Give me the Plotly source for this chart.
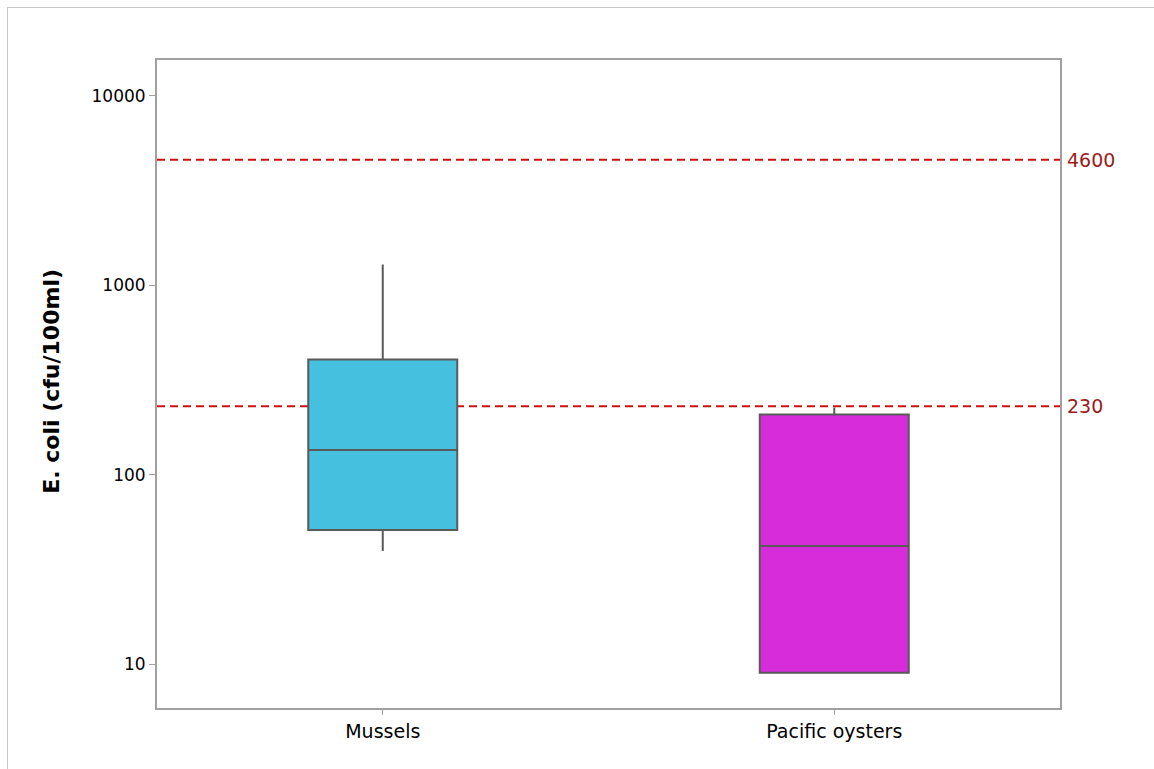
import math
import plotly.graph_objects as go

# Shellfish groups and their E. coli box statistics (cfu/100ml)
categories = ["Mussels", "Pacific oysters"]
lower_fence = [39.5, 9.0]
q1 = [51, 9.0]
median = [135, 42]
q3 = [406, 208]
upper_fence = [1290, 226]
box_colors = ["#45C1DF", "#D62CDA"]

# Classification thresholds drawn as reference lines
thresholds = [4600, 230]

# Y tick values
y_ticks = [10, 100, 1000, 10000]

fig = go.Figure()
for i, cat in enumerate(categories):
    fig.add_trace(go.Box(
        x=[cat],
        q1=[q1[i]], median=[median[i]], q3=[q3[i]],
        lowerfence=[lower_fence[i]], upperfence=[upper_fence[i]],
        fillcolor=box_colors[i],
        line=dict(color="#5a5a5a", width=2),
        width=0.33,
        whiskerwidth=0,
        boxpoints=False,
        showlegend=False,
        hoverinfo="skip",
    ))

for t in thresholds:
    fig.add_shape(type="line", xref="paper", x0=0, x1=1, yref="y", y0=t, y1=t,
                  line=dict(color="#D01010", width=2, dash="8px,5px"), layer="below")
    fig.add_annotation(xref="paper", x=1.006, yref="y", y=math.log10(t),
                       text=str(t), showarrow=False, xanchor="left", yanchor="middle",
                       font=dict(family="DejaVu Sans", size=19, color="#9B1B1B"))

# Y-axis title
fig.add_annotation(xref="paper", x=-0.1163, yref="paper", y=0.505, text="<b>E. coli (cfu/100ml)</b>",
                   textangle=-90, showarrow=False, xanchor="center", yanchor="middle",
                   font=dict(family="DejaVu Sans", size=22, color="black"))

# Thin outer border on top and left
px0, px1, py0, py1 = 157, 1060, 60, 708
def xp(p):
    return (p - px0) / (px1 - px0)
def yp(p):
    return (py1 - p) / (py1 - py0)
fig.add_shape(type="line", xref="paper", yref="paper", x0=xp(7), x1=xp(1154), y0=yp(7.5), y1=yp(7.5),
              line=dict(color="#C8C8C8", width=1))
fig.add_shape(type="line", xref="paper", yref="paper", x0=xp(7.5), x1=xp(7.5), y0=yp(7), y1=yp(769),
              line=dict(color="#C8C8C8", width=1))

fig.update_layout(
    width=1154, height=769,
    margin=dict(l=157, r=94, t=60, b=61),
    paper_bgcolor="white", plot_bgcolor="white",
    boxmode="overlay",
    font=dict(family="DejaVu Sans", size=16, color="black"),
    xaxis=dict(
        type="category", range=[-0.5, 1.5],
        showline=True, linecolor="#A0A0A0", linewidth=2, mirror=True,
        ticks="outside", ticklen=5, tickcolor="#A0A0A0", tickwidth=1,
        showgrid=False, zeroline=False,
        tickfont=dict(family="DejaVu Sans", size=19, color="black"),
    ),
    yaxis=dict(
        type="log", range=[0.7676, 4.190],
        tickvals=y_ticks, ticktext=[str(v) for v in y_ticks],
        showline=True, linecolor="#A0A0A0", linewidth=2, mirror=True,
        ticks="outside", ticklen=6, tickcolor="#A0A0A0", tickwidth=1,
        showgrid=False, zeroline=False,
        tickfont=dict(family="DejaVu Sans", size=17, color="black"),
    ),
)

fig.write_html("out.html")
